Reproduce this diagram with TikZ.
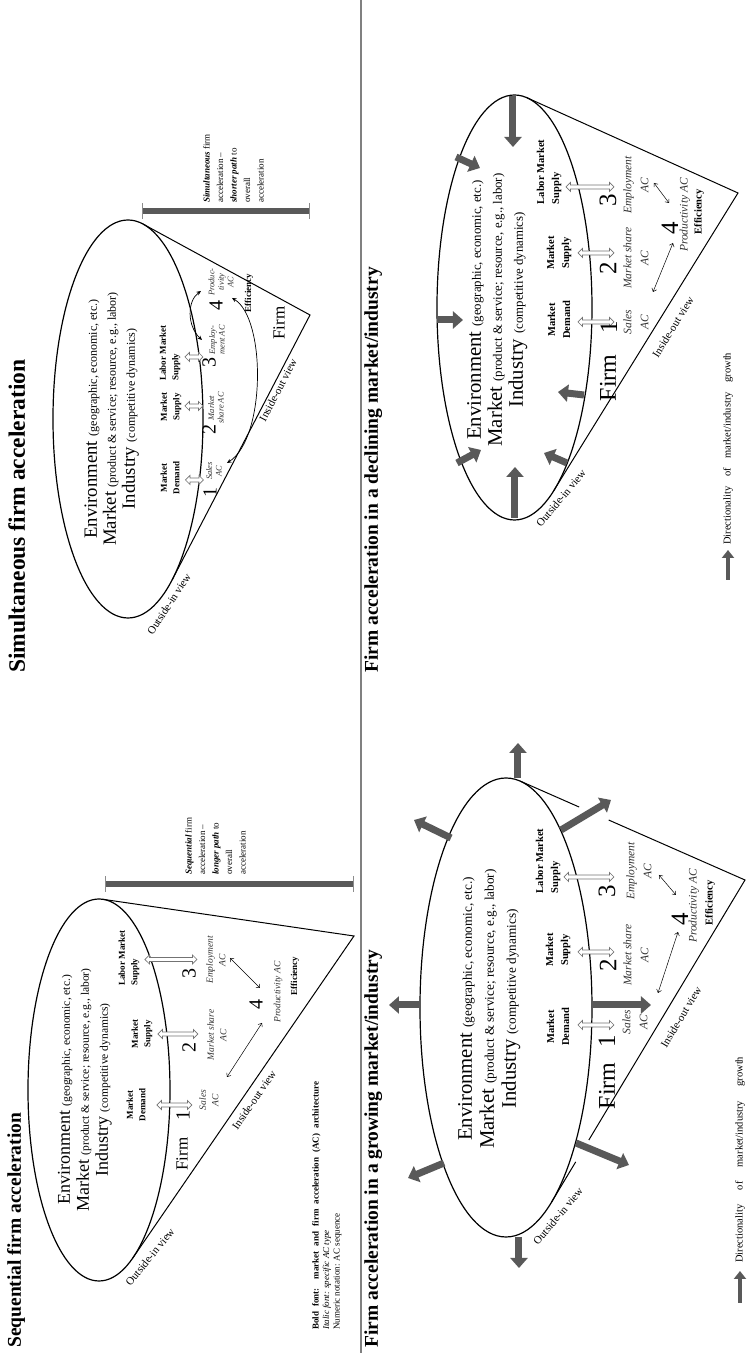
\documentclass[tikz,border=0pt]{standalone}
\usepackage{fontspec}
\setmainfont{Liberation Serif}
\usetikzlibrary{arrows.meta,shapes.arrows,calc}

\newcommand{\twofont}[4]{\fontsize{#1}{#1}\selectfont #3 \fontsize{#2}{#2}\selectfont #4}

\tikzset{
  ttl/.style={anchor=base west, inner sep=0, font=\fontsize{19.5}{22}\selectfont\bfseries},
  envln/.style={anchor=base, inner sep=0},
  bldA/.style={inner sep=0, align=center, font=\fontsize{9}{12.5}\selectfont\bfseries},
  bldC/.style={inner sep=0, align=center, font=\fontsize{10.5}{15}\selectfont\bfseries},
  itA/.style={inner sep=0, align=center, text=black!80, font=\fontsize{9.5}{12.5}\selectfont\itshape},
  itB/.style={inner sep=0, align=center, text=black!80, font=\fontsize{8.5}{9.5}\selectfont\itshape},
  itC/.style={inner sep=0, align=center, text=black!80, font=\fontsize{11.5}{17}\selectfont\itshape},
  num/.style={inner sep=0, font=\fontsize{#1}{#1}\selectfont},
  viewlbl/.style={inner sep=0, font=\fontsize{11}{11}\selectfont},
  dblarr/.style={double arrow, draw=black!55, fill=white, line width=0.7pt, inner sep=1.6pt,
    double arrow head extend=2.6pt, minimum height=#1, rotate=90},
  acarr/.style={line width=0.5pt, {Straight Barb[length=3pt,width=5pt]}-{Straight Barb[length=3pt,width=5pt]}},
  curvarr/.style={line width=0.7pt, {Stealth[length=4.5pt,width=4pt]}-{Stealth[length=4.5pt,width=4pt]}},
  growarr/.style={line width=7pt, draw=black!65, -{Triangle[width=17pt,length=10pt]}},
  legarr/.style={line width=4.5pt, draw=black!65, -{Triangle[width=12pt,length=8pt]}},
  pathbar/.style={line width=6pt, draw=black!65,
    {Bar[width=16pt,line width=1pt,color=black!45]}-{Bar[width=16pt,line width=1pt,color=black!45]}},
  note/.style={anchor=north west, inner sep=0, align=left, font=\fontsize{9}{13.5}\selectfont},
  legtxt/.style={anchor=west, inner sep=0, font=\fontsize{10.5}{10.5}\selectfont},
  cone/.style={line width=1pt},
  oval/.style={line width=1.2pt},
}

\begin{document}
\begin{tikzpicture}[x=1pt, y=1pt, rotate=90, transform shape]
\useasboundingbox (0,0) rectangle (1353,748);

\coordinate (dv1) at (0,387);
\coordinate (dv2) at (1353,387);
\draw[black!50, line width=1.6pt] (dv1) -- (dv2);

% sequential
\node[ttl] (ttlA) at (5,727) {Sequential firm acceleration};
\coordinate (elA) at (263,649);
\draw[oval] (elA) ellipse [x radius=191, y radius=71];
\coordinate (apA) at (417,394);
\coordinate (tA1) at (453.7,645.1);
\coordinate (tA2) at (95,615.2);
\draw[cone] (tA1) -- (apA) -- (tA2);
\node[envln] (envA) at (263,678) {\twofont{18}{11.5}{Environment}{(geographic, economic, etc.)}};
\node[envln] (mktA) at (263,659) {\twofont{18}{11.5}{Market}{(product \& service; resource, e.g., labor)}};
\node[envln] (indA) at (263,640) {\twofont{18}{11.5}{Industry}{(competitive dynamics)}};
\node[bldA] (mdA) at (248,612) {Market\\Demand};
\node[bldA] (msA) at (319,606) {Market\\Supply};
\node[bldA, align=left] (lmA) at (395,619) {Labor Market\\Supply};
\node[dblarr=35] (daA1) at (248,573.5) {};
\node[dblarr=40] (daA2) at (319,570) {};
\node[dblarr=52] (daA3) at (393.5,577) {};
\node[num=17] (firmA) at (199,566) {Firm};
\node[num=20] (oneA) at (237,565) {1};
\node[num=20] (twoA) at (305,559) {2};
\node[num=20] (thrA) at (379,559) {3};
\node[num=20] (fouA) at (348,492) {4};
\node[itA] (slA) at (253,539) {Sales\\AC};
\node[itA] (shA) at (318,531) {Market share\\AC};
\node[itA] (emA) at (393,532) {Employment\\AC};
\node[itA] (prA) at (361,470) {Productivity AC};
\node[bldA] (efA) at (377,453) {Efficiency};
\coordinate (acA1) at (276,521);
\coordinate (acA2) at (330,486);
\coordinate (acA3) at (395,518);
\coordinate (acA4) at (365,488);
\draw[acarr] (acA1) -- (acA2);
\draw[acarr] (acA3) -- (acA4);
\node[viewlbl, rotate=-34.5] (ioA) at (253,494) {Inside-out view};
\node[viewlbl, rotate=-39] (oiA) at (96,598) {Outside-in view};
\coordinate (brA1) at (469,394);
\coordinate (brA2) at (469,643);
\draw[pathbar] (brA1) -- (brA2);
\node[note] (txA) at (478,563) {\textbf{\textit{Sequential}} firm\\acceleration --\\\textbf{\textit{longer path}} to\\overall\\acceleration};
\node[note, font=\fontsize{9}{10.5}\selectfont] (lgA) at (23,436) {\makebox[248pt][s]{\bfseries Bold font: market and firm acceleration (AC) architecture}\\\textit{Italic font: specific AC type}\\Numeric notation: AC sequence};

% simultaneous
\node[ttl, font=\fontsize{23.5}{26}\selectfont\bfseries] (ttlB) at (680,723) {Simultaneous firm acceleration};
\coordinate (elB) at (934,620);
\draw[oval] (elB) ellipse [x radius=199, y radius=75];
\coordinate (apB) at (1038,438);
\coordinate (tB1) at (1128.9,604.9);
\coordinate (tB2) at (772.8,576);
\draw[cone] (tB1) -- (apB) -- (tB2);
\node[envln] (envB) at (934,651) {\twofont{18.7}{12}{Environment}{(geographic, economic, etc.)}};
\node[envln] (mktB) at (934,632) {\twofont{18.7}{12}{Market}{(product \& service; resource, e.g., labor)}};
\node[envln] (indB) at (934,613) {\twofont{18.7}{12}{Industry}{(competitive dynamics)}};
\node[bldA] (mdB) at (875,578) {Market\\Demand};
\node[bldA] (msB) at (946,577) {Market\\Supply};
\node[bldA, align=left] (lmB) at (1000,578) {Labor Market\\Supply};
\node[dblarr=18] (daB1) at (873,553.5) {};
\node[dblarr=18] (daB2) at (947,554) {};
\node[dblarr=18] (daB3) at (996,554) {};
\node[num=20] (oneB) at (860,538) {1};
\node[num=20] (twoB) at (923,539) {2};
\node[num=20] (thrB) at (990,539) {3};
\node[num=20] (fouB) at (1047,532) {4};
\node[itB] (slB) at (882,534) {Sales\\AC};
\node[itB] (shB) at (945,532) {Market\\share AC};
\node[itB] (emB) at (1013,531) {Employ-\\ment AC};
\node[itB] (prB) at (1071,527) {Produc-\\tivity\\AC};
\node[bldA] (efB) at (1060,499) {Efficiency};
\node[num=17] (firmB) at (1030,469) {Firm};
\coordinate (cvB1) at (890,521);
\coordinate (cvB2) at (1055,516);
\coordinate (cvB3) at (1013,546);
\coordinate (cvB4) at (1062,547);
\draw[curvarr] (cvB1) .. controls (915,482) and (1035,482) .. (cvB2);
\draw[curvarr] (cvB3) .. controls (1027,561) and (1052,561) .. (cvB4);
\node[viewlbl, rotate=-27.5] (ioB) at (963,470) {Inside-out view};
\node[viewlbl, rotate=-33] (oiB) at (749,579) {Outside-in view};
\coordinate (brB1) at (1142,438);
\coordinate (brB2) at (1142,606);
\draw[pathbar] (brB1) -- (brB2);
\node[note] (txB) at (1150,545) {\textbf{\textit{Simultaneous}} firm\\acceleration --\\\textbf{\textit{shorter path}} to\\overall\\acceleration};

% growing
\node[ttl] (ttlC) at (5,370) {Firm acceleration in a growing market/industry};
\coordinate (elC) at (345.5,242);
\draw[oval] (elC) ellipse [x radius=229.5, y radius=86];
\coordinate (apC) at (473,3);
\coordinate (tC1) at (572,228);
\coordinate (tC2) at (150.8,196.5);
\draw[cone] (tC1) -- ($(tC1)!0.263!(apC)$) ($(tC1)!0.394!(apC)$) -- (apC) -- ($(tC2)!0.193!(apC)$) ($(tC2)!0.125!(apC)$) -- (tC2);
\draw[growarr] (348,328) -- (348,359);
\draw[growarr] (348,156) -- (348,97);
\draw[growarr] (190,304) -- (175,340);
\draw[growarr] (116,229) -- (85,229);
\draw[growarr] (210,172) -- (188,119);
\draw[growarr] (575,230) -- (610,230);
\draw[growarr] (515,297) -- (533,334);
\draw[growarr] (523,187) -- (553,137);
\node[envln] (envC) at (344,276) {\twofont{20.7}{13.2}{Environment}{(geographic, economic, etc.)}};
\node[envln] (mktC) at (344,254) {\twofont{20.7}{13.2}{Market}{(product \& service; resource, e.g., labor)}};
\node[envln] (indC) at (344,232) {\twofont{20.7}{13.2}{Industry}{(competitive dynamics)}};
\node[bldC] (mdC) at (326,190) {Market\\Demand};
\node[bldC] (msC) at (403,190) {Market\\Supply};
\node[bldC, align=left] (lmC) at (492,200) {Labor Market\\Supply};
\node[dblarr=36] (daC1) at (328,152) {};
\node[dblarr=36] (daC2) at (401,152) {};
\node[dblarr=50] (daC3) at (476,159) {};
\node[num=24] (firmC) at (267,141) {Firm};
\node[num=25] (oneC) at (312,141) {1};
\node[num=25] (twoC) at (388,140) {2};
\node[num=25] (thrC) at (462,141) {3};
\node[num=25] (fouC) at (434,68) {4};
\node[itC] (slC) at (331,113) {Sales\\AC};
\node[itC] (shC) at (398,112) {Market share\\AC};
\node[itC] (emC) at (482,109) {Employment\\AC};
\node[itC] (prC) at (447,54) {Productivity AC};
\node[bldC] (efC) at (450,38) {Efficiency};
\coordinate (acC1) at (360,90);
\coordinate (acC2) at (421,70);
\coordinate (acC3) at (478,89);
\coordinate (acC4) at (458,72);
\draw[acarr] (acC1) -- (acC2);
\draw[acarr] (acC3) -- (acC4);
\node[viewlbl, rotate=-31] (ioC) at (336,67) {Inside-out view};
\node[viewlbl, rotate=-40] (oiC) at (137,190) {Outside-in view};
\node[legtxt] (lgC) at (90,8) {\makebox[206pt][s]{Directionality of market/industry growth}};
\draw[legarr] (50,8) -- (82,8);

% declining
\node[ttl] (ttlD) at (680,370) {Firm acceleration in a declining market/industry};
\coordinate (elD) at (1045.5,233.5);
\draw[oval] (elD) ellipse [x radius=212.5, y radius=77.5];
\coordinate (apD) at (1160,10);
\coordinate (tD1) at (1255.2,220.9);
\coordinate (tD2) at (862.4,194.2);
\draw[cone] (tD1) -- (apD) -- (tD2);
\draw[growarr] (1257,235) -- (1206,235);
\draw[growarr] (1196,292) -- (1185,268);
\draw[growarr] (1033,311) -- (1033,285);
\draw[growarr] (890,291) -- (903,267);
\draw[growarr] (835,233) -- (886,233);
\draw[growarr] (890,181) -- (900,204);
\draw[growarr] (958,164) -- (961,190);
\node[envln] (envD) at (1043,267) {\twofont{20.7}{12.8}{Environment}{(geographic, economic, etc.)}};
\node[envln] (mktD) at (1043,246) {\twofont{20.7}{12.8}{Market}{(product \& service; resource, e.g., labor)}};
\node[envln] (indD) at (1043,225) {\twofont{20.7}{12.8}{Industry}{(competitive dynamics)}};
\node[bldC] (mdD) at (1033,189) {Market\\Demand};
\node[bldC] (msD) at (1100,189) {Market\\Supply};
\node[bldC, align=left] (lmD) at (1181,199) {Labor Market\\Supply};
\node[dblarr=36] (daD1) at (1031,152) {};
\node[dblarr=36] (daD2) at (1100,152) {};
\node[dblarr=48] (daD3) at (1166,158) {};
\node[num=24] (firmD) at (975,140) {Firm};
\node[num=25] (oneD) at (1026,139) {1};
\node[num=25] (twoD) at (1085,140) {2};
\node[num=25] (thrD) at (1153,140) {3};
\node[num=25] (fouD) at (1125,78) {4};
\node[itC] (slD) at (1031,112) {Sales\\AC};
\node[itC] (shD) at (1095,112) {Market share\\AC};
\node[itC] (emD) at (1168,112) {Employment\\AC};
\node[itC] (prD) at (1138,63) {Productivity AC};
\node[bldC] (efD) at (1141,49) {Efficiency};
\coordinate (acD1) at (1061,95);
\coordinate (acD2) at (1110,75);
\coordinate (acD3) at (1170,94);
\coordinate (acD4) at (1150,79);
\draw[acarr] (acD1) -- (acD2);
\draw[acarr] (acD3) -- (acD4);
\node[viewlbl, rotate=-31.7] (ioD) at (1026,75) {Inside-out view};
\node[viewlbl, rotate=-40] (oiD) at (855,187) {Outside-in view};
\node[legtxt] (lgD) at (808,20) {\makebox[192pt][s]{Directionality of market/industry growth}};
\draw[legarr] (773,20) -- (803,20);
\end{tikzpicture}
\end{document}
